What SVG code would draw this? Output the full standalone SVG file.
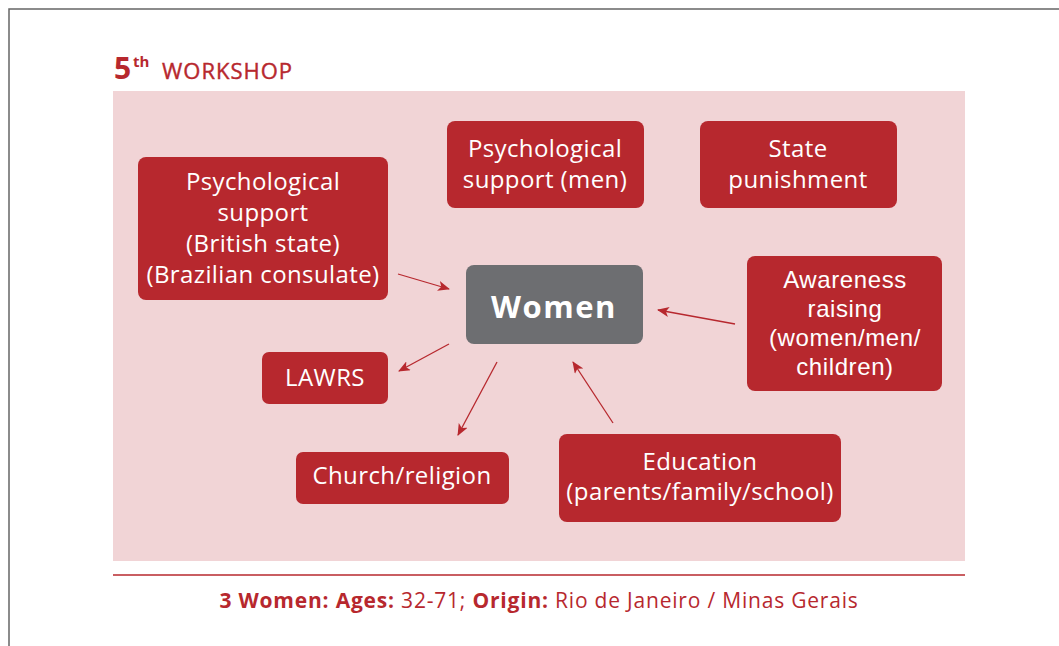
<svg xmlns="http://www.w3.org/2000/svg" width="1059" height="646" viewBox="0 0 1059 646">
<defs>
<style>
.node rect.r{fill:#b7282e;}
.t{font-family:"Open Sans","Liberation Sans",sans-serif;font-size:24px;letter-spacing:0.4px;fill:#ffffff;text-anchor:middle;}
.ta{font-family:"Liberation Sans",Arial,sans-serif;font-size:24px;letter-spacing:0.6px;fill:#ffffff;text-anchor:middle;}
.ttl{font-family:"Open Sans","Liberation Sans",sans-serif;fill:#b7282e;}
.conn line{stroke:#b7282e;stroke-width:1.3;fill:none;}
</style>
<marker id="ah" viewBox="0 0 12 10" refX="11" refY="5" markerWidth="12" markerHeight="10" markerUnits="userSpaceOnUse" orient="auto">
<path d="M0,0 L12,5 L0,10 L3,5 Z" fill="#b7282e"/>
</marker>
</defs>
<rect x="0" y="0" width="1059" height="646" fill="#ffffff"/>
<path d="M9,646 L9,9 L1059,9" fill="none" stroke="#666666" stroke-width="1.5"/>
<g id="title">
<text x="114" y="79" class="ttl" font-size="30" font-weight="bold">5</text>
<text x="133" y="67" class="ttl" font-size="15" font-weight="bold">th</text>
<text x="162" y="79" class="ttl" font-size="22" letter-spacing="1" stroke="#b7282e" stroke-width="0.4">WORKSHOP</text>
</g>
<rect x="113" y="91" width="852" height="470" fill="#f1d4d6"/>
<g id="n-psych-british" class="node">
<rect class="r" x="138" y="157" width="250" height="143" rx="8"/>
<text class="t" x="263" y="190">Psychological</text>
<text class="t" x="263" y="221">support</text>
<text class="t" x="263" y="252">(British state)</text>
<text class="t" x="263" y="283">(Brazilian consulate)</text>
</g>
<g id="n-psych-men" class="node">
<rect class="r" x="447" y="121" width="197" height="87" rx="8"/>
<text class="t" x="545" y="157">Psychological</text>
<text class="t" x="545" y="188">support (men)</text>
</g>
<g id="n-state" class="node">
<rect class="r" x="700" y="121" width="197" height="87" rx="8"/>
<text class="t" x="798" y="157">State</text>
<text class="t" x="798" y="188">punishment</text>
</g>
<g id="n-women" class="node">
<rect x="466" y="265" width="177" height="79" rx="8" fill="#6d6e71"/>
<text class="t" x="554" y="318" style="font-size:31px;font-weight:bold;letter-spacing:1.5px">Women</text>
</g>
<g id="n-awareness" class="node">
<rect class="r" x="747" y="256" width="195" height="135" rx="8"/>
<text class="ta" x="845" y="288">Awareness</text>
<text class="ta" x="845" y="317">raising</text>
<text class="ta" x="845" y="346">(women/men/</text>
<text class="ta" x="845" y="375">children)</text>
</g>
<g id="n-lawrs" class="node">
<rect class="r" x="262" y="352" width="126" height="52" rx="7"/>
<text class="t" x="325" y="386">LAWRS</text>
</g>
<g id="n-church" class="node">
<rect class="r" x="296" y="452" width="213" height="52" rx="7"/>
<text class="t" x="402" y="484">Church/religion</text>
</g>
<g id="n-education" class="node">
<rect class="r" x="559" y="434" width="282" height="88" rx="8"/>
<text class="t" x="700" y="470">Education</text>
<text class="t" x="700" y="500">(parents/family/school)</text>
</g>
<g id="connectors" class="conn">
<line x1="398" y1="274" x2="449" y2="289" marker-end="url(#ah)"/>
<line x1="735" y1="324" x2="658" y2="310" marker-end="url(#ah)"/>
<line x1="449" y1="344" x2="399" y2="371" marker-end="url(#ah)"/>
<line x1="497" y1="362" x2="458" y2="435" marker-end="url(#ah)"/>
<line x1="613" y1="423" x2="573" y2="362" marker-end="url(#ah)"/>
</g>
<line x1="113" y1="575" x2="965" y2="575" stroke="#b7282e" stroke-width="1.5"/>
<g id="footer">
<text x="539" y="608" text-anchor="middle" class="ttl" font-size="21" letter-spacing="0.8"><tspan font-weight="bold">3 Women: Ages:</tspan> 32-71; <tspan font-weight="bold">Origin:</tspan> Rio de Janeiro / Minas Gerais</text>
</g>
</svg>
